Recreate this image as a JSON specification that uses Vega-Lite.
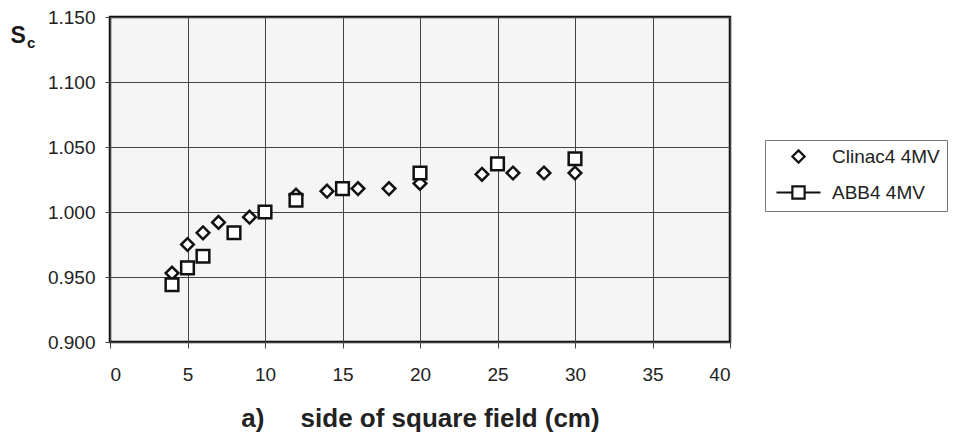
{
  "$schema": "https://vega.github.io/schema/vega-lite/v6.json",
  "width": 620,
  "height": 325,
  "autosize": {"type": "none"},
  "padding": {"left": 110, "top": 17, "right": 223, "bottom": 96},
  "background": "white",
  "title": {"text": "c", "anchor": "start", "frame": "group", "orient": "top", "offset": 0, "dx": -83, "dy": 55, "fontSize": 15, "fontWeight": "bold", "font": "Liberation Sans", "color": "#1a1a1a", "baseline": "alphabetic"},
  "config": {
    "view": {"stroke": "#111111", "strokeWidth": 2.5, "fill": "#f5f5f5"}
  },
  "data": {
    "values": [
      {"series": "Clinac4 4MV", "side": 4, "sc": 0.953},
      {"series": "Clinac4 4MV", "side": 5, "sc": 0.975},
      {"series": "Clinac4 4MV", "side": 6, "sc": 0.984},
      {"series": "Clinac4 4MV", "side": 7, "sc": 0.992},
      {"series": "Clinac4 4MV", "side": 9, "sc": 0.996},
      {"series": "Clinac4 4MV", "side": 12, "sc": 1.013},
      {"series": "Clinac4 4MV", "side": 14, "sc": 1.016},
      {"series": "Clinac4 4MV", "side": 16, "sc": 1.018},
      {"series": "Clinac4 4MV", "side": 18, "sc": 1.018},
      {"series": "Clinac4 4MV", "side": 20, "sc": 1.022},
      {"series": "Clinac4 4MV", "side": 24, "sc": 1.029},
      {"series": "Clinac4 4MV", "side": 26, "sc": 1.030},
      {"series": "Clinac4 4MV", "side": 28, "sc": 1.030},
      {"series": "Clinac4 4MV", "side": 30, "sc": 1.030},
      {"series": "ABB4 4MV", "side": 4, "sc": 0.944},
      {"series": "ABB4 4MV", "side": 5, "sc": 0.957},
      {"series": "ABB4 4MV", "side": 6, "sc": 0.966},
      {"series": "ABB4 4MV", "side": 8, "sc": 0.984},
      {"series": "ABB4 4MV", "side": 10, "sc": 1.000},
      {"series": "ABB4 4MV", "side": 12, "sc": 1.009},
      {"series": "ABB4 4MV", "side": 15, "sc": 1.018},
      {"series": "ABB4 4MV", "side": 20, "sc": 1.030},
      {"series": "ABB4 4MV", "side": 25, "sc": 1.037},
      {"series": "ABB4 4MV", "side": 30, "sc": 1.041}
    ]
  },
  "encoding": {
    "x": {
      "field": "side", "type": "quantitative",
      "scale": {"domain": [0, 40], "nice": false, "zero": false},
      "axis": {
        "values": [0, 5, 10, 15, 20, 25, 30, 35, 40],
        "grid": true, "gridColor": "#444444", "gridWidth": 1,
        "domain": false, "ticks": true, "tickColor": "#444444", "tickSize": 6,
        "labelFont": "Liberation Sans", "labelFontSize": 19, "labelColor": "#222222", "labelPadding": 17,
        "title": "a)\u00a0\u00a0\u00a0\u00a0 side of square field (cm)",
        "titleFont": "Liberation Sans", "titleFontSize": 26, "titleFontWeight": "bold", "titleColor": "#222222",
        "titleX": 310, "titleY": 84, "titleAlign": "center", "titleBaseline": "alphabetic"
      }
    },
    "y": {
      "field": "sc", "type": "quantitative",
      "scale": {"domain": [0.9, 1.15], "nice": false, "zero": false},
      "axis": {
        "values": [0.9, 0.95, 1.0, 1.05, 1.1, 1.15], "format": ".3f",
        "grid": true, "gridColor": "#444444", "gridWidth": 1,
        "domain": false, "ticks": true, "tickColor": "#444444", "tickSize": 5,
        "labelFont": "Liberation Sans", "labelFontSize": 19, "labelColor": "#222222", "labelPadding": 10,
        "title": "S", "titleFont": "Liberation Sans", "titleFontSize": 23, "titleFontWeight": "bold", "titleColor": "#1a1a1a",
        "titleAngle": 0, "titleX": -100, "titleY": 25, "titleAlign": "left", "titleBaseline": "alphabetic"
      }
    }
  },
  "layer": [
    {
      "mark": {"type": "point", "opacity": 0, "size": 150},
      "encoding": {
        "shape": {
          "field": "series", "type": "nominal",
          "scale": {"domain": ["Clinac4 4MV", "ABB4 4MV"], "range": ["diamond", "M-1,-1H1V1H-1Z M-3.6,0H-1 M1,0H3.6"]},
          "legend": {
            "orient": "none", "legendX": 655, "legendY": 123, "title": null,
            "strokeColor": "#777777", "padding": 7, "fillColor": "white",
            "labelFont": "Liberation Sans", "labelFontSize": 19, "labelColor": "#222222",
            "symbolSize": 150, "symbolStrokeWidth": 2.2, "symbolStrokeColor": "#111111", "symbolFillColor": "white",
            "symbolOpacity": 1, "symbolOffset": 17, "labelOffset": 24, "rowPadding": 13
          }
        }
      }
    },
    {
      "mark": {"type": "point", "filled": false, "fill": "white", "stroke": "#111111", "strokeWidth": 2.5, "size": 160, "opacity": 1},
      "encoding": {
        "shape": {
          "field": "series", "type": "nominal",
          "scale": {"domain": ["Clinac4 4MV", "ABB4 4MV"], "range": ["diamond", "square"]},
          "legend": null
        }
      }
    }
  ],
  "resolve": {"scale": {"shape": "independent"}, "legend": {"shape": "independent"}}
}
